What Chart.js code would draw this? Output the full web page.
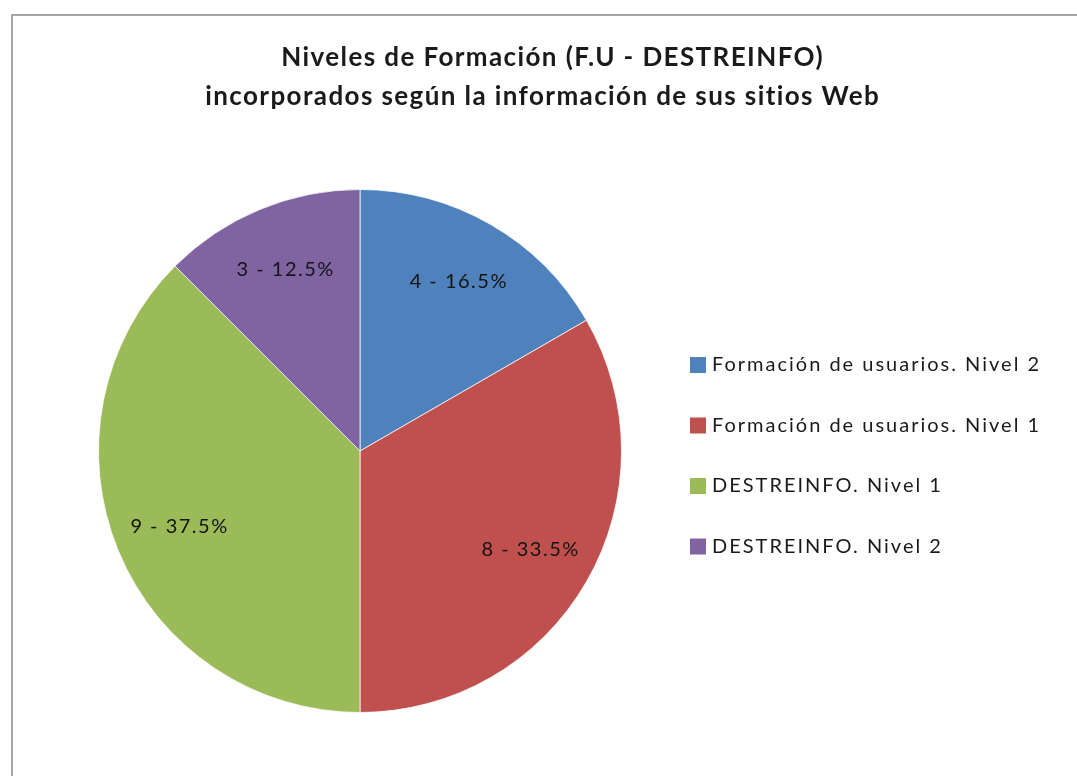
<!DOCTYPE html>
<html>
<head>
<meta charset="utf-8">
<script src="https://cdn.jsdelivr.net/npm/chart.js@4.4.1/dist/chart.umd.min.js"></script>
<style>
  html, body { margin: 0; padding: 0; background: #ffffff; }
  #wrap { width: 1077px; height: 776px; position: relative; }
</style>
</head>
<body>
<div id="wrap"><canvas id="c" width="1077" height="776"></canvas></div>
<script>
// ---- data ----
const titleLines = ['Niveles de Formación (F.U - DESTREINFO)', 'incorporados según la información de sus sitios Web'];
const categories = ['Formación de usuarios. Nivel 2', 'Formación de usuarios. Nivel 1', 'DESTREINFO. Nivel 1', 'DESTREINFO. Nivel 2'];
const counts = [4, 8, 9, 3];
const percentLabels = ['16.5%', '33.5%', '37.5%', '12.5%'];
const sliceColors = ['#4F81BD', '#C0504D', '#9BBB59', '#8064A2'];

const FONT = 'Lato, "Open Sans", "DejaVu Sans", sans-serif';

const framePlugin = {
  id: 'frame',
  beforeDraw(chart) {
    const ctx = chart.ctx;
    ctx.save();
    ctx.fillStyle = '#ffffff';
    ctx.fillRect(0, 0, chart.width, chart.height);
    ctx.strokeStyle = '#a6a6a6';
    ctx.lineWidth = 2;
    ctx.beginPath();
    ctx.moveTo(12, chart.height);
    ctx.lineTo(12, 15);
    ctx.lineTo(chart.width, 15);
    ctx.stroke();
    ctx.restore();
  }
};

function spacedText(ctx, txt, x, y, spacing) {
  ctx.letterSpacing = spacing + 'px';
  ctx.fillText(txt, x + (ctx.textAlign === 'center' ? spacing / 2 : 0), y);
  ctx.letterSpacing = '0px';
}

const textPlugin = {
  id: 'texts',
  afterDatasetsDraw(chart) {
    const ctx = chart.ctx;
    const meta = chart.getDatasetMeta(0);
    ctx.save();
    // slice labels
    ctx.font = '20px ' + FONT;
    ctx.fillStyle = '#141414';
    ctx.textAlign = 'center';
    ctx.textBaseline = 'middle';
    meta.data.forEach((arc, i) => {
      const p = arc.getProps(['x', 'y', 'startAngle', 'endAngle', 'outerRadius'], true);
      const mid = (p.startAngle + p.endAngle) / 2;
      const r = p.outerRadius * 0.75;
      const txt = chart.data.datasets[0].data[i] + ' - ' + percentLabels[i];
      spacedText(ctx, txt, p.x + Math.cos(mid) * r, p.y + Math.sin(mid) * r, 1.5);
    });
    // title
    ctx.font = 'bold 26px ' + FONT;
    ctx.fillStyle = '#1a1a1a';
    spacedText(ctx, titleLines[0], 552, 58, 1.4);
    spacedText(ctx, titleLines[1], 542, 97, 1.4);
    // legend
    ctx.font = '20px ' + FONT;
    ctx.textAlign = 'left';
    chart.data.labels.forEach((lab, i) => {
      const cy = 365 + i * 60.5;
      ctx.fillStyle = sliceColors[i];
      ctx.fillRect(690, cy - 8, 16, 16);
      ctx.fillStyle = '#1a1a1a';
      spacedText(ctx, lab, 712, cy, 2);
    });
    ctx.restore();
  }
};

new Chart(document.getElementById('c'), {
  type: 'pie',
  data: {
    labels: categories,
    datasets: [{
      data: counts,
      backgroundColor: sliceColors,
      borderColor: 'rgba(255,255,255,0.75)',
      borderWidth: 1
    }]
  },
  options: {
    responsive: false,
    devicePixelRatio: 1,
    animation: false,
    layout: { padding: { left: 98, right: 455, top: 189, bottom: 63 } },
    plugins: {
      legend: { display: false },
      title: { display: false },
      tooltip: { enabled: false }
    }
  },
  plugins: [framePlugin, textPlugin]
});
</script>
</body>
</html>
